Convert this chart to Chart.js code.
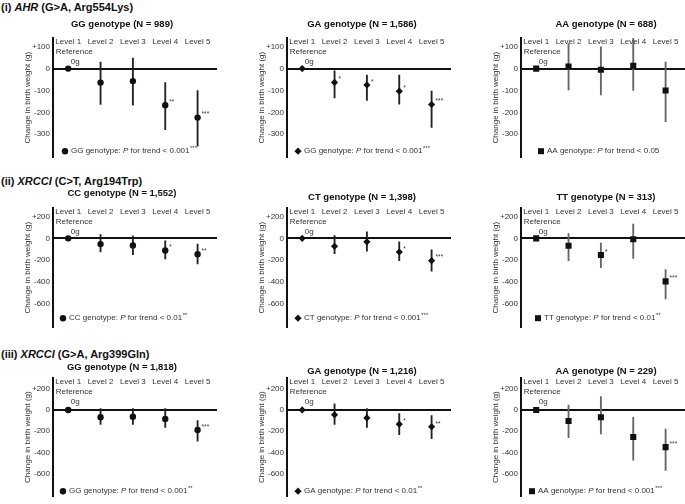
<!DOCTYPE html>
<html>
<head>
<meta charset="utf-8">
<script src="https://cdn.jsdelivr.net/npm/chart.js@4.4.1/dist/chart.umd.min.js"></script>
<style>
  body { margin: 0; background: #fff; width: 685px; height: 504px; overflow: hidden; position: relative;
         font-family: "Liberation Sans", Arial, sans-serif; }
  .rowlabel { position: absolute; left: 1px; font-size: 11px; font-weight: bold; color: #111; white-space: nowrap; }
  canvas { position: absolute; }
</style>
</head>
<body>
<div class="rowlabel" style="top:1px">(i) <i>AHR</i> (G&gt;A, Arg554Lys)</div>
<div class="rowlabel" style="top:175px">(ii) <i>XRCCI</i> (C&gt;T, Arg194Trp)</div>
<div class="rowlabel" style="top:348px">(iii) <i>XRCCI</i> (G&gt;A, Arg399Gln)</div>

<script>
const FONT = '"Liberation Sans", Arial, sans-serif';
const levels = ['Level 1', 'Level 2', 'Level 3', 'Level 4', 'Level 5'];

// (i) AHR
const ahrGG = [0, -64, -57, -167, -224];
const ahrGGLow = [null, -164, -167, -279, -355];
const ahrGGHigh = [null, 30, 48, -64, -100];
const ahrGGStars = ['', '', '', '**', '***'];

const ahrGA = [0, -63, -75, -103, -164];
const ahrGALow = [null, -134, -145, -163, -269];
const ahrGAHigh = [null, -10, -30, -30, -103];
const ahrGAStars = ['', '*', '*', '*', '***'];

const ahrAA = [0, 10, -5, 13, -100];
const ahrAALow = [null, -97, -120, -100, -243];
const ahrAAHigh = [null, 115, 100, 140, 30];
const ahrAAStars = ['', '', '', '', ''];

// (ii) XRCC1 Arg194Trp
const x194CC = [0, -53, -65, -112, -147];
const x194CCLow = [null, -126, -150, -191, -235];
const x194CCHigh = [null, 35, 24, -24, -53];
const x194CCStars = ['', '', '', '*', '**'];

const x194CT = [0, -74, -32, -126, -206];
const x194CTLow = [null, -141, -118, -206, -303];
const x194CTHigh = [null, 26, 59, -32, -106];
const x194CTStars = ['', '', '', '*', '***'];

const x194TT = [0, -68, -153, -9, -397];
const x194TTLow = [null, -206, -271, -185, -559];
const x194TTHigh = [null, 44, -44, 132, -288];
const x194TTStars = ['', '', '*', '', '***'];

// (iii) XRCC1 Arg399Gln
const x399GG = [0, -69, -63, -84, -188];
const x399GGLow = [null, -137, -137, -164, -293];
const x399GGHigh = [null, 12, 12, 12, -99];
const x399GGStars = ['', '', '', '', '***'];

const x399GA = [0, -45, -75, -134, -158];
const x399GALow = [null, -137, -164, -233, -269];
const x399GAHigh = [null, 57, 12, -33, -54];
const x399GAStars = ['', '', '', '*', '**'];

const x399AA = [0, -104, -69, -254, -349];
const x399AALow = [null, -260, -224, -472, -567];
const x399AAHigh = [null, 45, 125, -69, -179];
const x399AAStars = ['', '', '', '', '***'];

const row1Ticks = [100, 0, -100, -200, -300];
const row23Ticks = [200, 0, -200, -400, -600];

// geometry of the three rows (page pixels)
const rows = [
  { canvasTop: 0, height: 165, top: 38, bottom: 159, min: -405, max: 140, ticks: row1Ticks, titleY: [24, 24, 24], legendDy: -6 },
  { canvasTop: 165, height: 170, top: 208, bottom: 333, min: -820, max: 280, ticks: row23Ticks, titleY: [193, 197.5, 197.5], legendDy: -9 },
  { canvasTop: 335, height: 169, top: 378, bottom: 502, min: -810, max: 300, ticks: row23Ticks, titleY: [367, 371.5, 371], legendDy: -5 }
];
const axisX = [53, 287, 521];
const titleDx = [-13, -7, 3];
const legendDx = [[12, 11, 20], [10, 11, 17], [10, 11, 11]];

const panels = [
  { row: 0, col: 0, title: 'GG genotype (N = 989)', est: ahrGG, lo: ahrGGLow, hi: ahrGGHigh, stars: ahrGGStars, marker: 'circle', leg: ['GG genotype: ', '< 0.001', '***'] },
  { row: 0, col: 1, title: 'GA genotype (N = 1,586)', est: ahrGA, lo: ahrGALow, hi: ahrGAHigh, stars: ahrGAStars, marker: 'diamond', leg: ['GG genotype: ', '< 0.001', '***'] },
  { row: 0, col: 2, title: 'AA genotype (N = 688)', est: ahrAA, lo: ahrAALow, hi: ahrAAHigh, stars: ahrAAStars, marker: 'square', leg: ['AA genotype: ', '< 0.05', ''] },
  { row: 1, col: 0, title: 'CC genotype (N = 1,552)', est: x194CC, lo: x194CCLow, hi: x194CCHigh, stars: x194CCStars, marker: 'circle', leg: ['CC genotype: ', '< 0.01', '**'] },
  { row: 1, col: 1, title: 'CT genotype (N = 1,398)', est: x194CT, lo: x194CTLow, hi: x194CTHigh, stars: x194CTStars, marker: 'diamond', leg: ['CT genotype: ', '< 0.001', '***'] },
  { row: 1, col: 2, title: 'TT genotype (N = 313)', est: x194TT, lo: x194TTLow, hi: x194TTHigh, stars: x194TTStars, marker: 'square', leg: ['TT genotype: ', '< 0.01', '**'] },
  { row: 2, col: 0, title: 'GG genotype (N = 1,818)', est: x399GG, lo: x399GGLow, hi: x399GGHigh, stars: x399GGStars, marker: 'circle', leg: ['GG genotype: ', '< 0.001', '**'] },
  { row: 2, col: 1, title: 'GA genotype (N = 1,216)', est: x399GA, lo: x399GALow, hi: x399GAHigh, stars: x399GAStars, marker: 'diamond', leg: ['GA genotype: ', '< 0.01', '**'] },
  { row: 2, col: 2, title: 'AA genotype (N = 229)', est: x399AA, lo: x399AALow, hi: x399AAHigh, stars: x399AAStars, marker: 'square', leg: ['AA genotype: ', '< 0.001', '***'] }
];

const styleMap = { circle: ['circle', 3.2], diamond: ['rectRot', 3.6], square: ['rect', 4.3] };

function drawMarker(ctx, kind, x, y) {
  ctx.beginPath();
  if (kind === 'circle') ctx.arc(x, y, 3.2, 0, Math.PI * 2);
  else if (kind === 'diamond') { ctx.moveTo(x, y - 3.6); ctx.lineTo(x + 3.6, y); ctx.lineTo(x, y + 3.6); ctx.lineTo(x - 3.6, y); ctx.closePath(); }
  else ctx.rect(x - 3, y - 3, 6, 6);
  ctx.fill();
}

// text drawn on top of each panel: title, level labels, reference note, stars, legend
const annotate = {
  id: 'annotate',
  afterDraw(chart) {
    const p = chart.options.plugins.annotate;
    const { ctx, chartArea: a } = chart;
    const xs = chart.scales.x, ys = chart.scales.y;
    ctx.save();
    ctx.fillStyle = '#111';
    ctx.textBaseline = 'middle';

    ctx.font = 'bold 9.5px ' + FONT;
    ctx.textAlign = 'center';
    ctx.fillText(p.title, (a.left + a.right) / 2 + p.titleDx, p.titleY);

    ctx.fillStyle = '#333';
    ctx.font = '8px ' + FONT;
    levels.forEach((lab, i) => ctx.fillText(lab, xs.getPixelForValue(i + 1), a.top + 4));
    const x1 = xs.getPixelForValue(1);
    ctx.fillText('Reference', x1 + 6, a.top + 14);
    ctx.fillText('0g', x1 + 7, a.top + 24);

    ctx.textAlign = 'left';
    ctx.font = '6.5px ' + FONT;
    p.stars.forEach((s, i) => {
      if (s) ctx.fillText(s, xs.getPixelForValue(i + 1) + 4, ys.getPixelForValue(p.est[i]) - 3);
    });

    // legend line
    const ly = a.bottom + p.legendDy;
    let lx = a.left + p.legendDx;
    ctx.fillStyle = '#111';
    drawMarker(ctx, p.marker, lx, ly);
    lx += 6;
    ctx.fillStyle = '#333';
    const parts = [[p.leg[0], '8px '], ['P', 'italic 8px '], [' for trend ' + p.leg[1], '8px ']];
    parts.forEach(([t, f]) => { ctx.font = f + FONT; ctx.fillText(t, lx, ly); lx += ctx.measureText(t).width; });
    if (p.leg[2]) { ctx.font = '6px ' + FONT; ctx.fillText(p.leg[2], lx + 0.5, ly - 3); }
    ctx.restore();
  }
};

panels.forEach(p => {
  const r = rows[p.row];
  const canvas = document.createElement('canvas');
  const left = axisX[p.col] - 53;
  canvas.width = 228;
  canvas.height = r.height;
  canvas.style.left = left + 'px';
  canvas.style.top = r.canvasTop + 'px';
  document.body.appendChild(canvas);

  const pts = p.est.map((v, i) => ({ x: i + 1, y: v }));
  const bars = p.lo.map((v, i) => ({ x: i + 1, y: v === null ? null : [v, p.hi[i]] }));
  const [pStyle, pRad] = styleMap[p.marker];
  const barColor = p.col === 2 ? '#666' : '#222';

  new Chart(canvas.getContext('2d'), {
    type: 'scatter',
    data: {
      datasets: [
        { type: 'scatter', data: pts, pointStyle: pStyle, pointRadius: pRad, backgroundColor: '#111', borderColor: '#111', borderWidth: 0, order: 0 },
        { type: 'bar', data: bars, backgroundColor: barColor, barThickness: 1.2, borderWidth: 0, order: 1 }
      ]
    },
    plugins: [annotate],
    options: {
      responsive: false,
      animation: false,
      devicePixelRatio: 1,
      events: [],
      layout: { padding: { left: 0, right: 11, top: r.top - r.canvasTop, bottom: r.canvasTop + r.height - r.bottom } },
      plugins: {
        legend: { display: false },
        tooltip: { enabled: false },
        annotate: {
          title: p.title, titleDx: titleDx[p.col], titleY: r.titleY[p.col] - r.canvasTop,
          stars: p.stars, est: p.est, marker: p.marker, leg: p.leg,
          legendDx: legendDx[p.row][p.col], legendDy: r.legendDy
        }
      },
      scales: {
        x: { type: 'linear', min: 0.53, max: 5.6, offset: false, display: false },
        y: {
          min: r.min, max: r.max,
          afterFit: s => { s.width = 53; },
          afterBuildTicks: s => { s.ticks = r.ticks.map(v => ({ value: v })); },
          border: { display: true, color: '#111', width: 2 },
          grid: { drawTicks: false, lineWidth: 2, color: c => (c.tick && c.tick.value === 0 ? '#111' : 'rgba(0,0,0,0)') },
          ticks: { padding: 3, color: '#333', font: { size: 8, family: FONT }, callback: v => (v > 0 ? '+' + v : String(v)) },
          title: { display: true, text: 'Change in birth weight (g)', color: '#333', font: { size: 8, family: FONT }, padding: { top: 23, bottom: 0 } }
        }
      }
    }
  });
});
</script>
</body>
</html>
